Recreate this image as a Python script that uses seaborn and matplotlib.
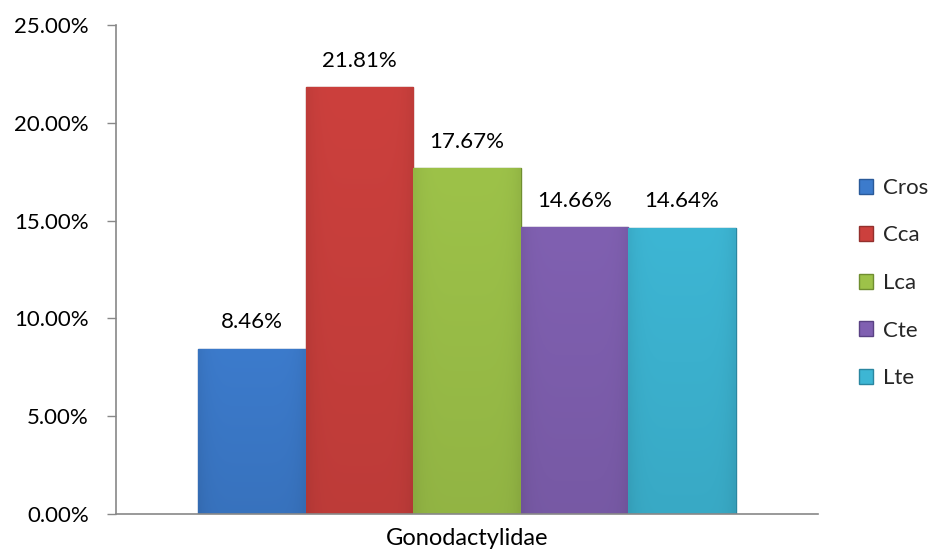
import matplotlib
matplotlib.use("Agg")
import matplotlib.pyplot as plt
import seaborn as sns
import pandas as pd
import numpy as np
from matplotlib.patches import Patch
from matplotlib.ticker import FuncFormatter
from matplotlib.colors import to_rgb

categories = ["Gonodactylidae"]
series = ["Cros", "Cca", "Lca", "Cte", "Lte"]
values = [8.46, 21.81, 17.67, 14.66, 14.64]
labels = ["8.46%", "21.81%", "17.67%", "14.66%", "14.64%"]
colors = ["#3C7BCC", "#CC403D", "#9DC249", "#8060B1", "#3DB6D4"]
edges = ["#2A5A99", "#93302D", "#6F8E30", "#5A4284", "#2A86A0"]

df = pd.DataFrame({"family": categories * len(series), "series": series, "value": values})

sns.set_theme(style="white")
plt.rcParams["font.family"] = ["Lato", "DejaVu Sans"]
FS = 16

fig = plt.figure(figsize=(9.3, 5.51), dpi=100)
ax = fig.add_axes([116 / 930, 37 / 551, 702 / 930, 489 / 551])

sns.barplot(data=df, x="family", y="value", hue="series", palette=colors,
            width=0.765, ax=ax, legend=False, saturation=1)

for bar, col, ec, lab in zip(ax.patches, colors, edges, labels):
    bar.set_edgecolor(ec)
    bar.set_linewidth(1.0)
    x0, w, h = bar.get_x(), bar.get_width(), bar.get_height()
    # subtle shading: lighter near top, darker toward the sides
    base = np.array(to_rgb(col))
    ny, nx = 64, 32
    yy = np.linspace(1, 0, ny)[:, None]
    xx = np.linspace(-1, 1, nx)[None, :]
    fac = 0.93 + 0.07 * yy - 0.06 * np.abs(xx) ** 6
    img = np.clip(base[None, None, :] * fac[..., None], 0, 1)
    im = ax.imshow(img, extent=(x0, x0 + w, 0, h), aspect="auto", zorder=bar.get_zorder() + 0.1,
                   interpolation="bilinear")
    im.set_clip_path(bar)
    ax.text(x0 + w / 2, h + 0.85, lab, ha="center", va="bottom", fontsize=FS, color="#000000")

ax.set_xlim(-0.5, 0.5)
ax.set_ylim(0, 25)
ax.set_yticks([0, 5, 10, 15, 20, 25])
ax.yaxis.set_major_formatter(FuncFormatter(lambda v, p: f"{v:.2f}%"))
ax.set_xlabel("")
ax.set_ylabel("")
ax.set_xticks([0])
ax.set_xticklabels(categories)
ax.tick_params(axis="x", length=0, labelsize=FS + 1, pad=10, colors="#000000")
ax.set_xticks([-0.5, 0.5], minor=True)
ax.tick_params(axis="x", which="minor", length=6, width=1, color="#888888", direction="out")
ax.tick_params(axis="y", length=6.5, width=1, color="#888888", direction="out", labelsize=FS, pad=13, left=True)
for t in ax.get_yticklabels():
    t.set_color("#000000")

for s in ["top", "right"]:
    ax.spines[s].set_visible(False)
for s in ["left", "bottom"]:
    ax.spines[s].set_color("#888888")
    ax.spines[s].set_linewidth(1.2)

handles = [Patch(facecolor=c, edgecolor=e, label=s) for c, e, s in zip(colors, edges, series)]
fig.legend(handles=handles, loc="center left", bbox_to_anchor=(850 / 930, 1 - 283 / 551),
           frameon=False, fontsize=FS, handlelength=0.65, handleheight=0.65,
           handletextpad=0.45, labelspacing=1.24, borderaxespad=0)

fig.savefig("out.png", dpi=100)
